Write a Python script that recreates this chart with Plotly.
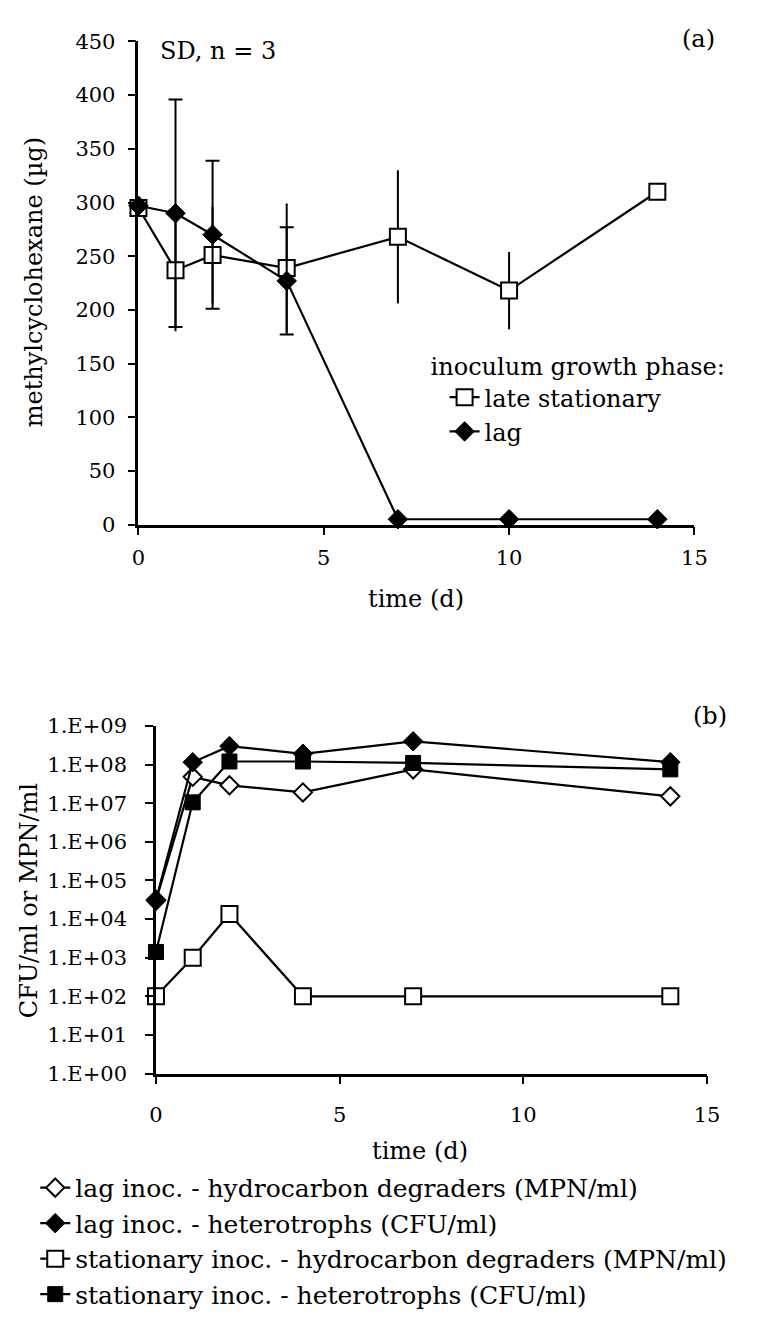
import plotly.graph_objects as go

FONT = "DejaVu Serif"

# ---------- panel (a): methylcyclohexane ----------
days_a = [0, 1, 2, 4, 7, 10, 14]
stationary_mch = [295, 237, 251, 239, 268, 218, 310]
stationary_sd = [0, 57, 45, 60, 62, 36, 0]
lag_mch = [297, 290, 270, 227, 5, 5, 5]
lag_sd = [0, 106, 69, 50, 0, 0, 0]
y_ticks_a = [0, 50, 100, 150, 200, 250, 300, 350, 400, 450]
x_ticks = [0, 5, 10, 15]

# ---------- panel (b): cell counts ----------
days_b = [0, 1, 2, 4, 7, 14]
lag_hc = [3.0e4, 4.8e7, 2.9e7, 1.9e7, 7.5e7, 1.5e7]
lag_het = [3.2e4, 1.15e8, 3.0e8, 1.9e8, 4.0e8, 1.15e8]
stat_hc = [1.0e2, 1.0e3, 1.35e4, 1.0e2, 1.0e2, 1.0e2]
stat_het = [1.4e3, 1.05e7, 1.2e8, 1.2e8, 1.1e8, 7.5e7]
y_ticks_b = [1, 10, 100, 1e3, 1e4, 1e5, 1e6, 1e7, 1e8, 1e9]
y_ticktext_b = ["1.E+00", "1.E+01", "1.E+02", "1.E+03", "1.E+04", "1.E+05",
                "1.E+06", "1.E+07", "1.E+08", "1.E+09"]

W, H = 759, 1334

fig = go.Figure()

line = dict(color="black", width=2.2)

fig.add_trace(go.Scatter(
    x=days_a, y=stationary_mch, mode="lines+markers", name="late stationary",
    line=line, marker=dict(symbol="square", size=16, color="white",
                           line=dict(color="black", width=2)),
    error_y=dict(type="data", array=stationary_sd, visible=True, color="black",
                 thickness=2, width=0),
    xaxis="x", yaxis="y", legend="legend", cliponaxis=False))
fig.add_trace(go.Scatter(
    x=days_a, y=lag_mch, mode="lines+markers", name="lag",
    line=line, marker=dict(symbol="diamond", size=15, color="black",
                           line=dict(color="black", width=1)),
    error_y=dict(type="data", array=lag_sd, visible=True, color="black",
                 thickness=2, width=7),
    xaxis="x", yaxis="y", legend="legend", cliponaxis=False))

# panel b traces
fig.add_trace(go.Scatter(
    x=days_b, y=lag_hc, mode="lines+markers",
    name="lag inoc. - hydrocarbon degraders (MPN/ml)",
    line=line, marker=dict(symbol="diamond", size=14, color="white",
                           line=dict(color="black", width=2)),
    xaxis="x2", yaxis="y2", legend="legend2", cliponaxis=False))
fig.add_trace(go.Scatter(
    x=days_b, y=lag_het, mode="lines+markers",
    name="lag inoc. - heterotrophs (CFU/ml)",
    line=line, marker=dict(symbol="diamond", size=15, color="black",
                           line=dict(color="black", width=1)),
    xaxis="x2", yaxis="y2", legend="legend2", cliponaxis=False))
fig.add_trace(go.Scatter(
    x=days_b, y=stat_hc, mode="lines+markers",
    name="stationary inoc. - hydrocarbon degraders (MPN/ml)",
    line=line, marker=dict(symbol="square", size=16, color="white",
                           line=dict(color="black", width=2)),
    xaxis="x2", yaxis="y2", legend="legend2", cliponaxis=False))
fig.add_trace(go.Scatter(
    x=days_b, y=stat_het, mode="lines+markers",
    name="stationary inoc. - heterotrophs (CFU/ml)",
    line=line, marker=dict(symbol="square", size=15, color="black",
                           line=dict(color="black", width=1)),
    xaxis="x2", yaxis="y2", legend="legend2", cliponaxis=False))

axis_common = dict(showline=True, linecolor="black", linewidth=2.5,
                   ticks="outside", ticklen=8, tickwidth=2, tickcolor="black",
                   showgrid=False, zeroline=False, mirror=False,
                   tickfont=dict(family=FONT, size=21, color="black"))

fig.update_layout(
    width=W, height=H,
    margin=dict(l=0, r=0, t=0, b=0),
    paper_bgcolor="white", plot_bgcolor="white",
    font=dict(family=FONT, size=24, color="black"),
    xaxis=dict(domain=[135 / W, 706 / W], range=[0, 15], tickvals=x_ticks,
               anchor="y", ticklabelstandoff=4, **axis_common),
    yaxis=dict(domain=[1 - 522 / H, 1 - 30 / H], range=[0, 450],
               tickvals=y_ticks_a, anchor="x", ticklabelstandoff=8,
               **axis_common),
    xaxis2=dict(domain=[153 / W, 719 / W], range=[0, 15], tickvals=x_ticks,
                anchor="y2", ticklabelstandoff=12, **axis_common),
    yaxis2=dict(domain=[1 - 1081 / H, 1 - 727 / H], type="log", range=[0, 9],
                tickvals=y_ticks_b, ticktext=y_ticktext_b, anchor="x2",
                ticklabelstandoff=14, **axis_common),
    legend=dict(x=433 / W, y=1 - 338 / H, xanchor="left", yanchor="top",
                bgcolor="rgba(0,0,0,0)", indentation=16,
                title=dict(text="inoculum growth phase:", side="top",
                           font=dict(family=FONT, size=24)),
                font=dict(family=FONT, size=24), traceorder="normal"),
    legend2=dict(x=29 / W, y=1 - 1174 / H, xanchor="left", yanchor="top",
                 bgcolor="rgba(0,0,0,0)",
                 font=dict(family=FONT, size=25), traceorder="normal"),
    showlegend=True,
)

ann = dict(showarrow=False, xref="paper", yref="paper",
           font=dict(family=FONT, size=24, color="black"))
fig.add_annotation(text="(a)", x=710 / W, y=1 - 28 / H, xanchor="center", yanchor="middle", **ann)
fig.add_annotation(text="SD, n = 3", x=155 / W, y=1 - 40 / H, xanchor="left", yanchor="middle", **ann)
fig.add_annotation(text="methylcyclohexane (µg)", x=28 / W, y=1 - 275 / H, textangle=-90,
                   xanchor="center", yanchor="middle", **ann)
fig.add_annotation(text="time (d)", x=420 / W, y=1 - 598 / H, xanchor="center", yanchor="middle", **ann)
fig.add_annotation(text="(b)", x=722 / W, y=1 - 717 / H, xanchor="center", yanchor="middle", **ann)
fig.add_annotation(text="CFU/ml or MPN/ml", x=22 / W, y=1 - 905 / H, textangle=-90,
                   xanchor="center", yanchor="middle", **ann)
fig.add_annotation(text="time (d)", x=424 / W, y=1 - 1160 / H, xanchor="center", yanchor="middle", **ann)

fig.write_html("out.html")
